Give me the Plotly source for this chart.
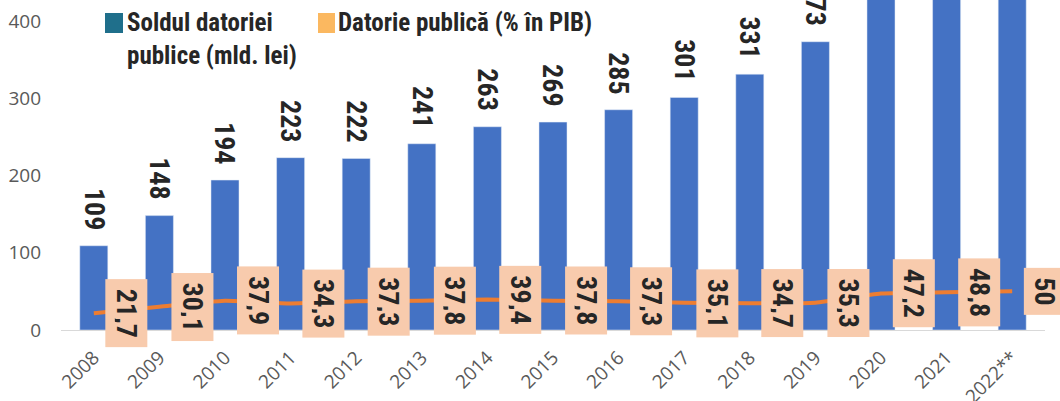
import plotly.graph_objects as go

years = ["2008", "2009", "2010", "2011", "2012", "2013", "2014", "2015",
         "2016", "2017", "2018", "2019", "2020", "2021", "2022**"]
debt_bn = [109, 148, 194, 223, 222, 241, 263, 269, 285, 301, 331, 373, 498, 576, 664]
debt_pct = [21.7, 30.1, 37.9, 34.3, 37.3, 37.8, 39.4, 37.8, 37.3, 35.1, 34.7, 35.3, 47.2, 48.8, 50.0]
yticks = [0, 100, 200, 300, 400]

BLUE = "#4472C4"
ORANGE = "#ED7D31"
PEACH = "#F8CBAD"
DARK = "#262626"
GRAY = "#595959"
LFONT = "Liberation Sans Narrow, Roboto Condensed, Noto Sans Condensed, Open Sans Condensed, DejaVu Sans Condensed"

ML, MR, MB = 61, 15, 71

def fmt(v):
    s = ("%.1f" % v).replace(".", ",")
    return s[:-2] if s.endswith(",0") else s

fig = go.Figure()
fig.add_trace(go.Bar(x=list(range(len(years))), y=debt_bn, marker_color=BLUE,
                     showlegend=False, hoverinfo="skip"))
fig.add_trace(go.Scatter(x=list(range(len(years))), y=debt_pct, mode="lines",
                         line=dict(color=ORANGE, width=4, shape="spline", smoothing=0.5),
                         showlegend=False, hoverinfo="skip"))

W = 1060 - ML - MR
H = 401 - MB
def px(x):
    return (x - ML) / W
def py(y):
    return (401 - MB - y) / H

annotations = []
for i, v in enumerate(debt_bn):
    annotations.append(dict(x=i, y=v, xref="x", yref="y", text=f"<b>{v}</b>",
                            textangle=90, showarrow=False, xanchor="center",
                            yanchor="bottom", yshift=14,
                            font=dict(family=LFONT, size=28, color=DARK)))
for i, v in enumerate(debt_pct):
    annotations.append(dict(x=i + 0.5, y=v, xref="x", yref="y", text=f"<b>{fmt(v)}</b>",
                            textangle=90, showarrow=False, xanchor="center",
                            yanchor="middle", yshift=0, bgcolor=PEACH,
                            height=23, borderpad=9,
                            font=dict(family=LFONT, size=28, color=DARK)))

annotations.append(dict(x=px(125), y=py(6), xref="paper", yref="paper",
                        text="<b>Soldul datoriei<br>publice (mld. lei)</b>",
                        showarrow=False, align="left", xanchor="left", yanchor="top",
                        font=dict(family=LFONT, size=25, color=DARK)))
annotations.append(dict(x=px(336), y=py(6), xref="paper", yref="paper",
                        text="<b>Datorie publică (% în PIB)</b>", showarrow=False,
                        xanchor="left", yanchor="top",
                        font=dict(family=LFONT, size=25, color=DARK)))

fig.update_layout(
    width=1060, height=401,
    margin=dict(l=ML, r=MR, t=0, b=MB),
    plot_bgcolor="white", paper_bgcolor="white",
    bargap=0.573,
    annotations=annotations,
    xaxis=dict(tickmode="array", tickvals=list(range(len(years))), ticktext=years,
               tickangle=-45, showgrid=False, showline=True, linecolor="#D9D9D9",
               linewidth=1, ticks="", range=[-0.5, len(years) - 0.5], automargin=False,
               ticklabelstandoff=8,
               tickfont=dict(family="Open Sans", size=19, color=GRAY)),
    yaxis=dict(range=[0, 427], tickvals=yticks, showgrid=False, zeroline=False,
               showline=False, ticks="", ticklabelstandoff=19, automargin=False,
               tickfont=dict(family="Open Sans", size=19, color=GRAY)),
)

fig.add_shape(type="rect", xref="paper", yref="paper", x0=px(105), x1=px(123),
              y0=py(33), y1=py(13), fillcolor="#1F6F8B", line_width=0)
fig.add_shape(type="rect", xref="paper", yref="paper", x0=px(318), x1=px(335),
              y0=py(33), y1=py(13), fillcolor="#FBB860", line_width=0)

fig.write_html("out.html", config={"displayModeBar": False},
               post_script="document.body.style.margin='0';document.body.style.padding='0';")
